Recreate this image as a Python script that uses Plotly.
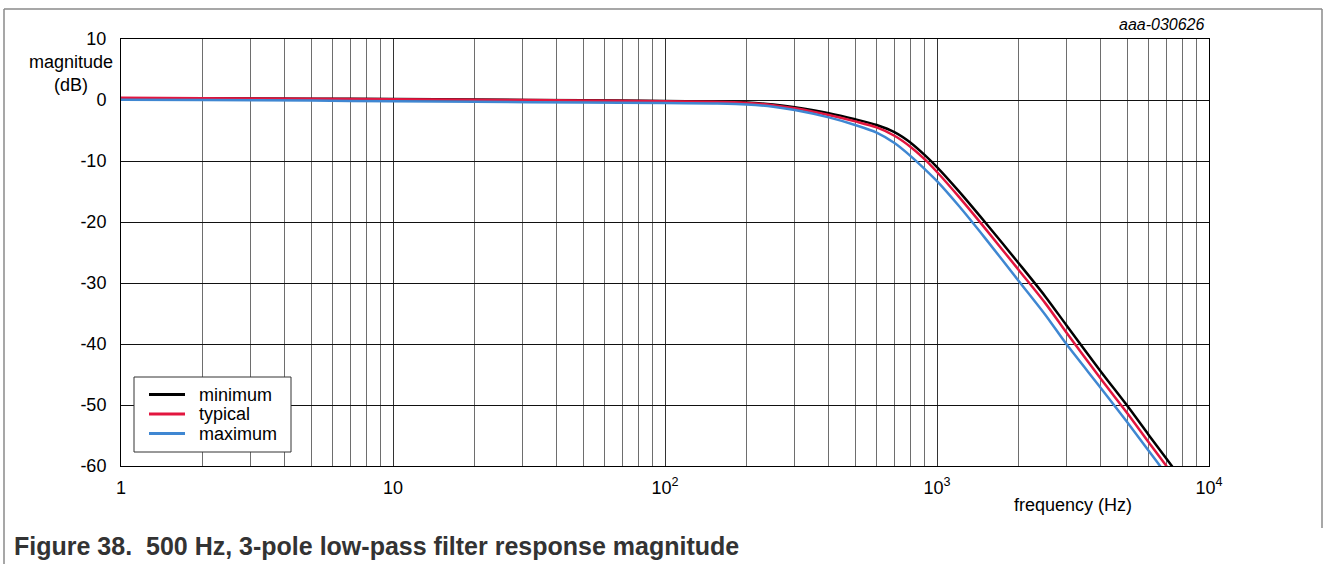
import plotly.graph_objects as go

# frequency points (Hz)
freq = [1, 2, 5, 10, 20, 50, 100, 150, 200, 250, 300, 400, 500, 600, 700,
        800, 900, 1000, 1200, 1500, 2000, 2500, 3000, 4000, 5000, 6000, 7000, 7500]

# magnitude (dB) per curve
mag_min = [0.30, 0.28, 0.22, 0.15, 0.08, -0.05, -0.15, -0.28, -0.42, -0.75, -1.2,
           -2.15, -3.15, -4.1, -5.3, -7.0, -9.0, -11.0, -14.9, -20.0, -26.8,
           -32.2, -37.0, -44.5, -50.1, -54.9, -58.9, -60.7]
mag_typ = [0.35, 0.30, 0.22, 0.12, 0.05, -0.08, -0.20, -0.30, -0.48, -0.85, -1.35,
           -2.45, -3.5, -4.5, -5.9, -7.7, -9.7, -11.8, -15.8, -21.0, -27.9,
           -33.3, -38.2, -45.7, -51.3, -56.1, -60.1, -62.0]
mag_max = [0.05, 0.0, -0.1, -0.2, -0.3, -0.4, -0.5, -0.58, -0.72, -1.1, -1.65,
           -2.85, -4.1, -5.35, -7.1, -9.2, -11.3, -13.3, -17.3, -22.6, -29.7,
           -35.2, -40.1, -47.2, -52.8, -57.5, -61.5, -63.3]

series_names = ["minimum", "typical", "maximum"]
series_colors = ["#000000", "#e2163f", "#3f87d2"]

x_ticks = [1, 10, 100, 1000, 10000]
x_labels = ["1", "10", "10<sup>2</sup>", "10<sup>3</sup>", "10<sup>4</sup>"]
y_ticks = [10, 0, -10, -20, -30, -40, -50, -60]
y_labels = ["10", "0", "-10", "-20", "-30", "-40", "-50", "-60"]

FONT = "Liberation Sans, Arial, sans-serif"

# plot area in pixels: x 121..1209, y 39..466
L, R, T, B = 121, 1209, 39, 466
W, H = 1327, 564


def px(x):
    return (x - L) / (R - L)


def py(y):
    return (B - y) / (B - T)


fig = go.Figure()
for name, color, mag in zip(series_names, series_colors, [mag_min, mag_typ, mag_max]):
    fig.add_trace(go.Scatter(x=freq, y=mag, name=name, mode="lines", showlegend=False,
                             line=dict(color=color, width=2.5, shape="spline", smoothing=0.8)))

frame = "#8a8a8a"
shapes = [
    dict(type="line", xref="paper", yref="paper", x0=px(4), x1=px(1322), y0=py(9), y1=py(9),
         line=dict(color=frame, width=1.5)),
    dict(type="line", xref="paper", yref="paper", x0=px(4), x1=px(4), y0=py(9), y1=py(564),
         line=dict(color=frame, width=1.5)),
    dict(type="line", xref="paper", yref="paper", x0=px(1322), x1=px(1322), y0=py(9), y1=py(528),
         line=dict(color=frame, width=1.5)),
    # legend box
    dict(type="rect", xref="paper", yref="paper", x0=px(134), x1=px(291), y0=py(377), y1=py(452),
         fillcolor="white", line=dict(color="#333333", width=1), layer="above"),
]
annotations = []
for i, (name, color) in enumerate(zip(series_names, series_colors)):
    yc = 394.5 + 19.5 * i
    shapes.append(dict(type="line", xref="paper", yref="paper", x0=px(149), x1=px(185),
                       y0=py(yc), y1=py(yc), line=dict(color=color, width=3), layer="above"))
    annotations.append(dict(text=name, xref="paper", yref="paper", x=px(197), y=py(yc),
                            xanchor="left", yanchor="middle", showarrow=False,
                            font=dict(size=18)))

annotations += [
    dict(text="magnitude<br>(dB)", xref="paper", yref="paper", x=px(70.5), y=py(73),
         xanchor="center", yanchor="middle", showarrow=False, align="center",
         font=dict(size=18)),
    dict(text="frequency (Hz)", xref="paper", yref="paper", x=px(1073), y=py(505),
         xanchor="center", yanchor="middle", showarrow=False, font=dict(size=18)),
    dict(text="<i>aaa-030626</i>", xref="paper", yref="paper", x=px(1207), y=py(25),
         xanchor="right", yanchor="middle", showarrow=False, font=dict(size=16)),
    dict(text="<b>Figure 38.  500 Hz, 3-pole low-pass filter response magnitude</b>",
         xref="paper", yref="paper", x=px(12), y=py(546), xanchor="left", yanchor="middle",
         showarrow=False, font=dict(size=25, color="#333333")),
]

fig.update_layout(
    width=W, height=H,
    margin=dict(l=L, r=W - R, t=T, b=H - B),
    paper_bgcolor="white", plot_bgcolor="white",
    font=dict(family=FONT, size=18, color="#000000"),
    showlegend=False,
    shapes=shapes,
    annotations=annotations,
)

fig.update_xaxes(type="log", range=[0, 4], tickvals=x_ticks, ticktext=x_labels,
                 showgrid=True, gridcolor="#333333", gridwidth=1,
                 minor=dict(dtick="D1", showgrid=True, gridcolor="#6e6e6e", gridwidth=1, ticks=""),
                 showline=True, linecolor="#000000", linewidth=1, mirror=True,
                 ticks="", ticklabelstandoff=5, zeroline=False)
fig.update_yaxes(range=[-60, 10], tickvals=y_ticks, ticktext=y_labels,
                 showgrid=True, gridcolor="#111111", gridwidth=1,
                 showline=True, linecolor="#000000", linewidth=1, mirror=True,
                 ticks="", ticklabelstandoff=10, zeroline=False)

fig.write_html("out.html", config={"displayModeBar": False},
               post_script="document.body.style.margin='0';document.body.style.overflow='hidden';")
